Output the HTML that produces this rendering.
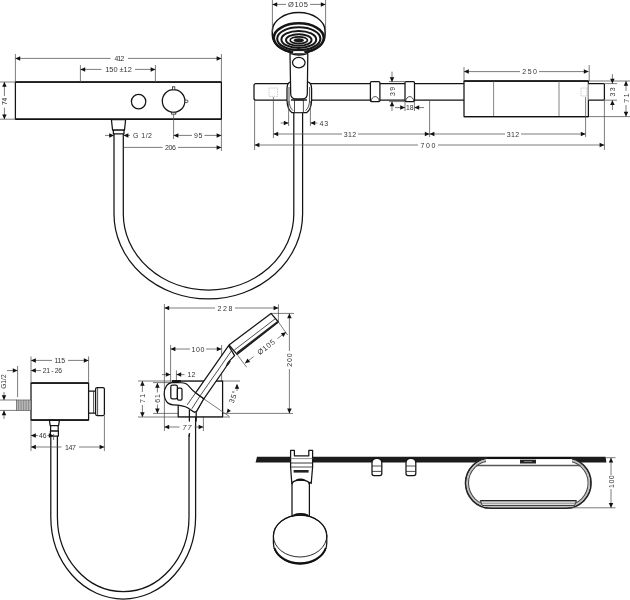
<!DOCTYPE html>
<html><head><meta charset="utf-8"><title>drawing</title>
<style>
html,body{margin:0;padding:0;background:#fff;}
body{width:630px;height:600px;overflow:hidden;font-family:"Liberation Sans",sans-serif;}
svg{display:block}
.o{fill:none;stroke:#141414;stroke-width:1.25;stroke-linejoin:round;stroke-linecap:round}
.ow{fill:#fff;stroke:#141414;stroke-width:1.25;stroke-linejoin:round}
.t{fill:none;stroke:#222;stroke-width:0.8}
.tw{fill:#fff;stroke:#222;stroke-width:0.8}
.g{fill:none;stroke:#777;stroke-width:0.9}
.d{fill:none;stroke:#505050;stroke-width:0.75}
.a{fill:#111;stroke:none}
.k{fill:#1c1c1c;stroke:none}
text{font-family:"Liberation Sans",sans-serif;fill:#333;}
</style></head><body>
<svg width="630" height="600" viewBox="0 0 630 600">
<rect x="0" y="0" width="630" height="600" fill="#fff"/>
<g opacity="0.999">
<path class="o" d="M114 133 V214 A94.3 85 0 0 0 302.6 214 V113"/>
<path class="o" d="M123.3 133 V214 A85.2 76 0 0 0 293.8 214 V113"/>
<rect class="ow" x="15.4" y="82" width="206" height="37.2"/>
<line x1="15.4" y1="82" x2="221.4" y2="82" stroke="#111" stroke-width="1.5"/>
<line x1="15.4" y1="119.2" x2="221.4" y2="119.2" stroke="#111" stroke-width="1.5"/>
<circle class="o" cx="138.6" cy="101.6" r="7.2"/>
<circle class="o" cx="173.6" cy="101" r="11.3"/>
<rect class="tw" x="172.5" y="86.8" width="2.3" height="3"/>
<rect class="tw" x="184.9" y="100.1" width="3" height="2.4" rx="1"/>
<rect class="tw" x="171.6" y="112.3" width="4.2" height="1.8"/>
<path class="ow" d="M111.4 119.6 H125.6 L124.5 130.2 H112.6 Z"/>
<rect class="ow" x="113.4" y="130.2" width="10.6" height="3.6"/>
<line class="d" x1="15.4" y1="54" x2="15.4" y2="82"/>
<line class="d" x1="221.4" y1="54" x2="221.4" y2="82"/>
<line class="d" x1="15.4" y1="58.4" x2="110.5" y2="58.4"/>
<line class="d" x1="128" y1="58.4" x2="221.4" y2="58.4"/>
<polygon class="a" points="15.40,58.40 20.20,56.15 20.20,60.65"/>
<polygon class="a" points="221.40,58.40 216.60,60.65 216.60,56.15"/>
<text x="119.4" y="58.6" font-size="6.8" text-anchor="middle" dominant-baseline="central" textLength="10" lengthAdjust="spacing" >412</text>
<line class="d" x1="80.4" y1="65" x2="80.4" y2="82"/>
<line class="d" x1="155.4" y1="65" x2="155.4" y2="82"/>
<line class="d" x1="80.4" y1="69.4" x2="101.5" y2="69.4"/>
<line class="d" x1="135" y1="69.4" x2="155.4" y2="69.4"/>
<polygon class="a" points="80.40,69.40 85.20,67.15 85.20,71.65"/>
<polygon class="a" points="155.40,69.40 150.60,71.65 150.60,67.15"/>
<text x="118.5" y="69.3" font-size="7.4" text-anchor="middle" dominant-baseline="central" textLength="26.7" lengthAdjust="spacing" >150 ±12</text>
<line class="d" x1="0" y1="82" x2="15.4" y2="82"/>
<line class="d" x1="0" y1="119.2" x2="15.4" y2="119.2"/>
<line class="d" x1="4.4" y1="82" x2="4.4" y2="96"/>
<line class="d" x1="4.4" y1="107.7" x2="4.4" y2="119.2"/>
<polygon class="a" points="4.40,82.00 6.65,86.80 2.15,86.80"/>
<polygon class="a" points="4.40,119.20 2.15,114.40 6.65,114.40"/>
<text x="4.5" y="101.3" font-size="6.8" text-anchor="middle" dominant-baseline="central" textLength="7.3" lengthAdjust="spacing" transform="rotate(-90 4.5 101.3)" >74</text>
<line class="d" x1="173.6" y1="114" x2="173.6" y2="139"/>
<line class="d" x1="221.4" y1="119.2" x2="221.4" y2="151"/>
<line class="d" x1="173.6" y1="135.4" x2="192" y2="135.4"/>
<line class="d" x1="204.5" y1="135.4" x2="221.4" y2="135.4"/>
<polygon class="a" points="173.60,135.40 178.40,133.15 178.40,137.65"/>
<polygon class="a" points="221.40,135.40 216.60,137.65 216.60,133.15"/>
<text x="198.2" y="135.5" font-size="7" text-anchor="middle" dominant-baseline="central" textLength="8.2" lengthAdjust="spacing" >95</text>
<line class="d" x1="123.6" y1="147.4" x2="162.5" y2="147.4"/>
<line class="d" x1="178" y1="147.4" x2="221.4" y2="147.4"/>
<polygon class="a" points="221.40,147.40 216.60,149.65 216.60,145.15"/>
<text x="170.4" y="147.5" font-size="7" text-anchor="middle" dominant-baseline="central" textLength="11" lengthAdjust="spacing" >206</text>
<line class="d" x1="105" y1="135.4" x2="114" y2="135.4"/>
<polygon class="a" points="114.00,135.40 109.20,137.65 109.20,133.15"/>
<line class="d" x1="123.6" y1="135.4" x2="130" y2="135.4"/>
<polygon class="a" points="123.60,135.40 128.40,133.15 128.40,137.65"/>
<text x="142.5" y="135.5" font-size="7" text-anchor="middle" dominant-baseline="central" textLength="19" lengthAdjust="spacing" >G 1/2</text>
<path class="ow" d="M464 83.6 H256 Q254 83.6 254 85.6 V98.2 Q254 100.2 256 100.2 H464"/>
<rect x="269" y="88" width="8.6" height="8.4" fill="none" stroke="#b0b0b0" stroke-width="0.7" stroke-dasharray="1.4 1"/>
<path class="ow" d="M290 82.2 C288 83 287 85.5 287 89 V100.2 C287.2 106 289 110.6 292 112.7 H306.6 C309.6 110.6 311.4 106 311.6 100.2 V89 C311.6 85.5 310.6 83 308.4 82.2 Z"/>
<path class="t" d="M289 87 V100 C289.2 105 290.4 108.4 293 110.6"/>
<path class="t" d="M309.6 87 V100 C309.4 105 308.2 108.4 305.6 110.6"/>
<rect class="tw" x="294.4" y="100" width="8.9" height="12.4"/>
<line x1="291" y1="100" x2="307" y2="100" stroke="#111" stroke-width="1.4"/>
<path class="ow" style="stroke-width:1.5" d="M272.3 35 V31 A26.4 18.4 0 0 1 325.1 31 V35 A26.4 18.4 0 0 1 272.3 35 Z"/>
<ellipse cx="298.8" cy="37.8" rx="25.0" ry="14.5" fill="none" stroke="#161616" stroke-width="2.5"/>
<ellipse cx="298.8" cy="38.7" rx="21.6" ry="11.4" fill="none" stroke="#161616" stroke-width="2.1"/>
<ellipse cx="298.8" cy="39.4" rx="17.4" ry="8.5" fill="none" stroke="#161616" stroke-width="2.0"/>
<ellipse cx="298.8" cy="40" rx="12.8" ry="5.8" fill="none" stroke="#161616" stroke-width="1.9"/>
<ellipse cx="298.8" cy="40.2" rx="8.7" ry="3.4" fill="none" stroke="#161616" stroke-width="1.7"/>
<ellipse cx="298.8" cy="40.3" rx="5" ry="2.1" fill="#1a1a1a"/>
<path class="ow" d="M290 53.5 L290.7 94 Q290.9 98.7 295.4 98.8 H302.8 Q307.1 98.7 307.3 94 L307.8 53.5 Q299 56.5 290 53.5 Z"/>
<ellipse class="o" cx="298.8" cy="62.6" rx="6.3" ry="5.2"/>
<path d="M292.4 53.2 L293 50.6 H304.6 L305.2 53.2" fill="#fff" stroke="#111" stroke-width="1"/>
<rect class="ow" x="370.4" y="81.6" width="9.5" height="20" rx="1.2"/>
<path class="t" d="M371.2 101.4 A3.95 4.8 0 0 1 379.09999999999997 101.4"/>
<rect class="ow" x="405" y="81.6" width="9.5" height="20" rx="1.2"/>
<path class="t" d="M405.8 101.4 A3.95 4.8 0 0 1 413.7 101.4"/>
<rect class="ow" x="464" y="81" width="124.4" height="35.6"/>
<line x1="464" y1="81" x2="588.4" y2="81" stroke="#111" stroke-width="1.4"/>
<line x1="464" y1="116.6" x2="588.4" y2="116.6" stroke="#111" stroke-width="1.4"/>
<line class="g" x1="493.6" y1="81.5" x2="493.6" y2="116"/>
<line class="g" x1="559" y1="81.5" x2="559" y2="116"/>
<rect x="581" y="88" width="6" height="8" fill="none" stroke="#aaa" stroke-width="0.7" stroke-dasharray="1.2 1"/>
<path class="ow" d="M588.4 83.6 H603.4 Q604.4 83.6 604.4 84.6 V99.2 Q604.4 100.2 603.4 100.2 H588.4"/>
<line class="d" x1="272.4" y1="0" x2="272.4" y2="32"/>
<line class="d" x1="325.6" y1="0" x2="325.6" y2="32"/>
<line class="d" x1="272.4" y1="4.4" x2="286" y2="4.4"/>
<line class="d" x1="310" y1="4.4" x2="325.6" y2="4.4"/>
<polygon class="a" points="272.40,4.40 277.20,2.15 277.20,6.65"/>
<polygon class="a" points="325.60,4.40 320.80,6.65 320.80,2.15"/>
<text x="298" y="4.5" font-size="7.5" text-anchor="middle" dominant-baseline="central" textLength="20" lengthAdjust="spacing" >Ø105</text>
<line class="d" x1="288.6" y1="101" x2="288.6" y2="126"/>
<line class="d" x1="310.4" y1="101" x2="310.4" y2="126"/>
<line class="d" x1="280.6" y1="123" x2="288.6" y2="123"/>
<polygon class="a" points="288.60,123.00 283.80,125.25 283.80,120.75"/>
<line class="d" x1="310.4" y1="123" x2="317.5" y2="123"/>
<polygon class="a" points="310.40,123.00 315.20,120.75 315.20,125.25"/>
<text x="323.8" y="123.2" font-size="7" text-anchor="middle" dominant-baseline="central" textLength="8.6" lengthAdjust="spacing" >43</text>
<line class="d" x1="273.4" y1="97" x2="273.4" y2="138"/>
<line class="d" x1="429.6" y1="100.4" x2="429.6" y2="137"/>
<line class="d" x1="273.4" y1="134" x2="342" y2="134"/>
<line class="d" x1="358" y1="134" x2="429.6" y2="134"/>
<polygon class="a" points="273.40,134.00 278.20,131.75 278.20,136.25"/>
<polygon class="a" points="429.60,134.00 424.80,136.25 424.80,131.75"/>
<text x="350" y="134.2" font-size="7" text-anchor="middle" dominant-baseline="central" textLength="12.5" lengthAdjust="spacing" >312</text>
<line class="d" x1="585.6" y1="97" x2="585.6" y2="137"/>
<line class="d" x1="429.6" y1="134" x2="505" y2="134"/>
<line class="d" x1="521" y1="134" x2="585.6" y2="134"/>
<polygon class="a" points="429.60,134.00 434.40,131.75 434.40,136.25"/>
<polygon class="a" points="585.60,134.00 580.80,136.25 580.80,131.75"/>
<text x="513" y="134.2" font-size="7" text-anchor="middle" dominant-baseline="central" textLength="12.5" lengthAdjust="spacing" >312</text>
<line class="d" x1="254.6" y1="100.4" x2="254.6" y2="150"/>
<line class="d" x1="604.4" y1="100.4" x2="604.4" y2="150"/>
<line class="d" x1="254.6" y1="145" x2="418" y2="145"/>
<line class="d" x1="438" y1="145" x2="604.4" y2="145"/>
<polygon class="a" points="254.60,145.00 259.40,142.75 259.40,147.25"/>
<polygon class="a" points="604.40,145.00 599.60,147.25 599.60,142.75"/>
<text x="428" y="145.2" font-size="7" text-anchor="middle" dominant-baseline="central" textLength="15" lengthAdjust="spacing" >700</text>
<line class="d" x1="389" y1="81.6" x2="405" y2="81.6"/>
<line class="d" x1="389" y1="101.6" x2="405" y2="101.6"/>
<line class="d" x1="392" y1="71.6" x2="392" y2="82"/>
<polygon class="a" points="392.00,82.00 389.75,77.20 394.25,77.20"/>
<line class="d" x1="392" y1="101.4" x2="392" y2="111"/>
<polygon class="a" points="392.00,101.40 394.25,106.20 389.75,106.20"/>
<text x="392.2" y="91.5" font-size="7" text-anchor="middle" dominant-baseline="central" textLength="9.2" lengthAdjust="spacing" transform="rotate(-90 392.2 91.5)" >39</text>
<line class="d" x1="405" y1="101.6" x2="405" y2="111"/>
<line class="d" x1="414.4" y1="101.6" x2="414.4" y2="111"/>
<line class="d" x1="395" y1="107.6" x2="405" y2="107.6"/>
<polygon class="a" points="405.00,107.60 400.20,109.85 400.20,105.35"/>
<line class="d" x1="414.4" y1="107.6" x2="424" y2="107.6"/>
<polygon class="a" points="414.40,107.60 419.20,105.35 419.20,109.85"/>
<text x="409.8" y="107.8" font-size="6.8" text-anchor="middle" dominant-baseline="central" textLength="7.6" lengthAdjust="spacing" >18</text>
<line class="d" x1="464" y1="67" x2="464" y2="81"/>
<line class="d" x1="589.2" y1="65" x2="589.2" y2="81"/>
<line class="d" x1="464" y1="71.6" x2="520" y2="71.6"/>
<line class="d" x1="539" y1="71.6" x2="588.6" y2="71.6"/>
<polygon class="a" points="464.00,71.60 468.80,69.35 468.80,73.85"/>
<polygon class="a" points="588.60,71.60 583.80,73.85 583.80,69.35"/>
<text x="529.6" y="71.8" font-size="7" text-anchor="middle" dominant-baseline="central" textLength="14.5" lengthAdjust="spacing" >250</text>
<line class="d" x1="589" y1="81" x2="630" y2="81"/>
<line class="d" x1="589" y1="116.6" x2="630" y2="116.6"/>
<line class="d" x1="604.4" y1="83.6" x2="617" y2="83.6"/>
<line class="d" x1="604.4" y1="100.2" x2="617" y2="100.2"/>
<line class="d" x1="612.4" y1="74" x2="612.4" y2="83.6"/>
<polygon class="a" points="612.40,83.60 610.15,78.80 614.65,78.80"/>
<line class="d" x1="612.4" y1="100.2" x2="612.4" y2="110"/>
<polygon class="a" points="612.40,100.20 614.65,105.00 610.15,105.00"/>
<text x="612.6" y="92" font-size="7" text-anchor="middle" dominant-baseline="central" textLength="9.2" lengthAdjust="spacing" transform="rotate(-90 612.6 92)" >33</text>
<line class="d" x1="626" y1="81" x2="626" y2="91"/>
<line class="d" x1="626" y1="105" x2="626" y2="116.6"/>
<polygon class="a" points="626.00,81.00 628.25,85.80 623.75,85.80"/>
<polygon class="a" points="626.00,116.60 623.75,111.80 628.25,111.80"/>
<text x="626.2" y="98" font-size="7" text-anchor="middle" dominant-baseline="central" textLength="9.4" lengthAdjust="spacing" transform="rotate(-90 626.2 98)" >71</text>
<path class="o" d="M50.8 436 V517 A72.4 82 0 0 0 195.6 517 V412"/>
<path class="o" d="M57.4 436 V517 A65.8 74.6 0 0 0 189 517 V435"/>
<rect class="ow" x="31" y="383" width="57.6" height="37"/>
<line x1="31" y1="383" x2="88.6" y2="383" stroke="#111" stroke-width="1.5"/>
<line x1="31" y1="420" x2="88.6" y2="420" stroke="#111" stroke-width="1.5"/>
<rect x="16.6" y="400" width="14.4" height="10.4" fill="#b8b8b8" stroke="#555" stroke-width="0.7"/>
<line x1="18.6" y1="400.4" x2="18.6" y2="410" stroke="#777" stroke-width="0.7"/>
<line x1="21.1" y1="400.4" x2="21.1" y2="410" stroke="#777" stroke-width="0.7"/>
<line x1="23.6" y1="400.4" x2="23.6" y2="410" stroke="#777" stroke-width="0.7"/>
<line x1="26.1" y1="400.4" x2="26.1" y2="410" stroke="#777" stroke-width="0.7"/>
<line x1="28.6" y1="400.4" x2="28.6" y2="410" stroke="#777" stroke-width="0.7"/>
<rect class="ow" x="88.6" y="391" width="7" height="22"/>
<line class="t" x1="93.6" y1="391" x2="93.6" y2="413"/>
<rect class="ow" x="95.6" y="387.6" width="8.8" height="28" rx="1.5"/>
<line class="t" x1="97.6" y1="388" x2="97.6" y2="415.2"/>
<path class="ow" d="M49.4 420.4 H59.4 L58.6 425.6 H50.2 Z"/>
<rect class="ow" x="50.6" y="425.6" width="7.6" height="5.4"/>
<rect class="ow" x="50.4" y="431" width="8" height="5"/>
<line class="d" x1="31" y1="356.4" x2="31" y2="383"/>
<line class="d" x1="88.6" y1="356.4" x2="88.6" y2="383"/>
<line class="d" x1="31" y1="360.4" x2="52" y2="360.4"/>
<line class="d" x1="68" y1="360.4" x2="88.6" y2="360.4"/>
<polygon class="a" points="31.00,360.40 35.80,358.15 35.80,362.65"/>
<polygon class="a" points="88.60,360.40 83.80,362.65 83.80,358.15"/>
<text x="59.8" y="360.6" font-size="7" text-anchor="middle" dominant-baseline="central" textLength="10.6" lengthAdjust="spacing" >115</text>
<line class="d" x1="31" y1="370.6" x2="41" y2="370.6"/>
<polygon class="a" points="31.00,370.60 35.80,368.35 35.80,372.85"/>
<text x="52.4" y="370.8" font-size="6.8" text-anchor="middle" dominant-baseline="central" textLength="19.4" lengthAdjust="spacing" >21 - 26</text>
<line class="d" x1="7" y1="370.6" x2="17.6" y2="370.6"/>
<polygon class="a" points="17.60,370.60 12.80,372.85 12.80,368.35"/>
<line class="d" x1="17.6" y1="366" x2="17.6" y2="397"/>
<line class="d" x1="0" y1="400" x2="16.6" y2="400"/>
<line class="d" x1="0" y1="410.4" x2="16.6" y2="410.4"/>
<line class="d" x1="4" y1="392" x2="4" y2="400"/>
<polygon class="a" points="4.00,400.00 1.75,395.20 6.25,395.20"/>
<line class="d" x1="4" y1="410.4" x2="4" y2="419"/>
<polygon class="a" points="4.00,410.40 6.25,415.20 1.75,415.20"/>
<text x="3.8" y="381.6" font-size="6.6" text-anchor="middle" dominant-baseline="central" textLength="14.5" lengthAdjust="spacing" transform="rotate(-90 3.8 381.6)" >G1/2</text>
<line class="d" x1="31" y1="420" x2="31" y2="451"/>
<line class="d" x1="104.4" y1="415.6" x2="104.4" y2="451"/>
<line class="d" x1="31" y1="435.6" x2="38" y2="435.6"/>
<polygon class="a" points="31.00,435.60 35.80,433.35 35.80,437.85"/>
<line class="d" x1="47.4" y1="435.6" x2="53.6" y2="435.6"/>
<polygon class="a" points="53.60,435.60 48.80,437.85 48.80,433.35"/>
<line class="d" x1="53.6" y1="434" x2="53.6" y2="440"/>
<text x="42.7" y="435.8" font-size="6.8" text-anchor="middle" dominant-baseline="central" textLength="7.6" lengthAdjust="spacing" >46</text>
<line class="d" x1="31" y1="447" x2="61.5" y2="447"/>
<line class="d" x1="79" y1="447" x2="104.4" y2="447"/>
<polygon class="a" points="31.00,447.00 35.80,444.75 35.80,449.25"/>
<polygon class="a" points="104.40,447.00 99.60,449.25 99.60,444.75"/>
<text x="70.4" y="447.2" font-size="7" text-anchor="middle" dominant-baseline="central" textLength="11" lengthAdjust="spacing" >147</text>
<line class="d" x1="164.4" y1="304" x2="164.4" y2="431"/>
<line class="d" x1="278.4" y1="304.4" x2="278.4" y2="322"/>
<line class="d" x1="164.4" y1="308" x2="215" y2="308"/>
<line class="d" x1="235" y1="308" x2="278.4" y2="308"/>
<polygon class="a" points="164.40,308.00 169.20,305.75 169.20,310.25"/>
<polygon class="a" points="278.40,308.00 273.60,310.25 273.60,305.75"/>
<text x="225" y="308.2" font-size="7" text-anchor="middle" dominant-baseline="central" textLength="15" lengthAdjust="spacing" >228</text>
<line class="d" x1="170.6" y1="345" x2="170.6" y2="382"/>
<line class="d" x1="221.6" y1="345" x2="221.6" y2="381"/>
<line class="d" x1="170.6" y1="349" x2="190" y2="349"/>
<line class="d" x1="206" y1="349" x2="221.6" y2="349"/>
<polygon class="a" points="170.60,349.00 175.40,346.75 175.40,351.25"/>
<polygon class="a" points="221.60,349.00 216.80,351.25 216.80,346.75"/>
<text x="198" y="349.2" font-size="7" text-anchor="middle" dominant-baseline="central" textLength="13" lengthAdjust="spacing" >100</text>
<line class="d" x1="176.4" y1="370.4" x2="176.4" y2="381"/>
<line class="d" x1="162" y1="374.6" x2="170.6" y2="374.6"/>
<polygon class="a" points="170.60,374.60 165.80,376.85 165.80,372.35"/>
<line class="d" x1="176.4" y1="374.6" x2="184.5" y2="374.6"/>
<polygon class="a" points="176.40,374.60 181.20,372.35 181.20,376.85"/>
<text x="191.4" y="374.8" font-size="7" text-anchor="middle" dominant-baseline="central" textLength="8" lengthAdjust="spacing" >12</text>
<line class="d" x1="138" y1="381" x2="240" y2="381"/>
<line class="d" x1="138" y1="417" x2="230" y2="417"/>
<line class="d" x1="142.4" y1="381" x2="142.4" y2="392"/>
<line class="d" x1="142.4" y1="405" x2="142.4" y2="417"/>
<polygon class="a" points="142.40,381.00 144.65,385.80 140.15,385.80"/>
<polygon class="a" points="142.40,417.00 140.15,412.20 144.65,412.20"/>
<text x="142.6" y="398.4" font-size="7" text-anchor="middle" dominant-baseline="central" textLength="9.2" lengthAdjust="spacing" transform="rotate(-90 142.6 398.4)" >71</text>
<line class="d" x1="153" y1="382.6" x2="172" y2="382.6"/>
<line class="d" x1="153" y1="413.4" x2="293" y2="413.4"/>
<line class="d" x1="157.4" y1="383" x2="157.4" y2="392.5"/>
<line class="d" x1="157.4" y1="404.5" x2="157.4" y2="413.4"/>
<polygon class="a" points="157.40,383.00 159.65,387.80 155.15,387.80"/>
<polygon class="a" points="157.40,413.40 155.15,408.60 159.65,408.60"/>
<text x="157.6" y="398.4" font-size="7" text-anchor="middle" dominant-baseline="central" textLength="8.8" lengthAdjust="spacing" transform="rotate(-90 157.6 398.4)" >61</text>
<line class="d" x1="203.4" y1="399" x2="203.4" y2="431"/>
<line class="d" x1="164.4" y1="427" x2="179.5" y2="427"/>
<line class="d" x1="194.5" y1="427" x2="203.4" y2="427"/>
<polygon class="a" points="164.40,427.00 169.20,424.75 169.20,429.25"/>
<polygon class="a" points="203.40,427.00 198.60,429.25 198.60,424.75"/>
<text x="187" y="427.2" font-size="7.2" text-anchor="middle" dominant-baseline="central" textLength="9" lengthAdjust="spacing" font-style="italic">77</text>
<line class="d" x1="271" y1="313.4" x2="294" y2="313.4"/>
<line class="d" x1="289.4" y1="313.4" x2="289.4" y2="351"/>
<line class="d" x1="289.4" y1="369" x2="289.4" y2="413.4"/>
<polygon class="a" points="289.40,313.40 291.65,318.20 287.15,318.20"/>
<polygon class="a" points="289.40,413.40 287.15,408.60 291.65,408.60"/>
<text x="289.6" y="360" font-size="7" text-anchor="middle" dominant-baseline="central" textLength="13.5" lengthAdjust="spacing" transform="rotate(-90 289.6 360)" >200</text>
<path class="ow" d="M172.2 381 H222.6 V416.8 H178.2 V381"/>
<line x1="172" y1="381" x2="181" y2="381" stroke="#111" stroke-width="1.8"/>
<line class="d" x1="204" y1="399" x2="229" y2="416.2"/>
<polygon class="a" points="226.60,413.20 227.73,408.50 230.88,410.96"/>
<line class="d" x1="237" y1="384.5" x2="237" y2="391"/>
<polygon class="a" points="237.00,384.00 239.25,388.80 234.75,388.80"/>
<text x="233.4" y="397" font-size="7.4" text-anchor="middle" dominant-baseline="central" textLength="12.5" lengthAdjust="spacing" transform="rotate(-70 233.4 397)" >35°</text>
<line class="o" x1="189.4" y1="410" x2="189.4" y2="421"/>
<line class="o" x1="196.2" y1="410" x2="196.2" y2="421"/>
<line class="o" x1="189.4" y1="433.5" x2="189.4" y2="436"/>
<path class="ow" d="M172.4 382.4 C166 383.4 164.2 389 164.2 394 C164.2 400 167.5 404.6 173 404.8 C180 405 184 405.4 188 408 C191 410 192.6 411.6 194.8 412.3 L196.6 411.4 L203.8 398.8 L195.6 392.8 C191 389.5 189.5 386 186.5 384 C184.5 382.6 181 382.4 172.4 382.4 Z"/>
<line class="t" x1="195.6" y1="392.8" x2="187.3" y2="404.8"/>
<line class="t" x1="200" y1="396" x2="191.8" y2="408.8"/>
<line class="t" x1="203.8" y1="398.8" x2="196.6" y2="411.4"/>
<rect class="ow" x="170.8" y="385.2" width="6.6" height="13.6" rx="1.6"/>
<rect class="ow" x="177.4" y="388.2" width="4.6" height="12" rx="1.4"/>
<path class="ow" d="M228.6 345.6 L195.6 392.8 L203.8 398.8 L226 367 C227 364 228 362 229.6 360.6 L234.6 355.6 Z"/>
<path class="t" d="M231.6 350.6 L200 396"/>
<path d="M229.8 360.4 C227.6 362.4 227 364.6 226.6 366.6 C229 364.8 230 363 231 360.8 Z" fill="#222"/>
<path class="ow" d="M229 345 L271 313.4 L278.4 322 L237 354.4 Z"/>
<path d="M236.6 352.2 L277 321.2 L278.2 322.4 L237.6 354 Z" fill="#222"/>
<path class="t" d="M234.4 350 L275.2 318.8"/>
<line class="d" x1="237" y1="354.4" x2="246.6" y2="367.2"/>
<line class="d" x1="278.4" y1="322" x2="287.6" y2="335"/>
<line class="d" x1="245" y1="363.2" x2="253.6" y2="356.7"/>
<line class="d" x1="277.4" y1="338.6" x2="286" y2="332.2"/>
<polygon class="a" points="245.00,363.20 247.44,358.49 250.18,362.06"/>
<polygon class="a" points="286.00,332.20 283.56,336.91 280.82,333.34"/>
<text x="266.2" y="347.2" font-size="7.4" text-anchor="middle" dominant-baseline="central" textLength="20" lengthAdjust="spacing" transform="rotate(-37.5 266.2 347.2)" >Ø105</text>
<path class="ow" d="M273.4 536 A26.7 21 0 0 1 326.8 536 V543 A26.7 21 0 0 1 273.4 543 Z"/>
<path d="M274.4 548 A26.7 21 0 0 0 325.8 548" fill="none" stroke="#111" stroke-width="2"/>
<ellipse class="o" cx="300.1" cy="536" rx="26.7" ry="21" style="stroke-width:0.9"/>
<path class="ow" d="M292 516 V484 Q292 480 300.6 480 Q309.4 480 309.4 484 V516 Q300.6 513.6 292 516 Z"/>
<path class="k" d="M257 456.8 H605.6 L606.4 462.6 H255.6 Z"/>
<path class="ow" d="M290.6 450.4 H294.4 V455.8 H308.8 V450.4 H312.6 V467 L311.2 483.5 Q310 481 309.4 484 V484 Q309.4 480 300.6 480 Q292 480 292 484 Q291.6 481 291.8 483.5 L290.6 467 Z"/>
<line x1="290.6" y1="458.6" x2="312.6" y2="458.6" stroke="#777" stroke-width="0.8"/>
<line x1="290.6" y1="463" x2="312.6" y2="463" stroke="#222" stroke-width="0.9"/>
<line x1="290.6" y1="467" x2="312.6" y2="467" stroke="#222" stroke-width="0.8"/>
<rect x="293.6" y="470" width="15" height="2.6" fill="#222"/>
<path d="M296 480.4 Q300.6 478 305 480.4" fill="none" stroke="#111" stroke-width="1.4"/>
<path d="M293.5 515.2 Q300.6 512.6 308 515.2" fill="none" stroke="#111" stroke-width="1.6"/>
<path class="ow" d="M372 463 Q372 458.4 376.9 458.4 Q381.8 458.4 381.8 463 V473.6 Q381.8 475.6 379.8 475.6 H374 Q372 475.6 372 473.6 Z"/>
<line class="t" x1="372" y1="466" x2="381.8" y2="466"/>
<line class="t" x1="372" y1="471.4" x2="381.8" y2="471.4"/>
<path class="ow" d="M406 463 Q406 458.4 410.9 458.4 Q415.8 458.4 415.8 463 V473.6 Q415.8 475.6 413.8 475.6 H408 Q406 475.6 406 473.6 Z"/>
<line class="t" x1="406" y1="466" x2="415.8" y2="466"/>
<line class="t" x1="406" y1="471.4" x2="415.8" y2="471.4"/>
<rect x="465.6" y="458" width="125.4" height="50.2" rx="25.1" fill="#fff" stroke="#242424" stroke-width="1.8"/>
<rect x="467.1" y="459.5" width="122.4" height="47.2" rx="23.6" fill="none" stroke="#bdbdbd" stroke-width="1.3"/>
<rect x="468.5" y="460.9" width="119.6" height="44.4" rx="22.2" fill="none" stroke="#4a4a4a" stroke-width="1.1"/>
<rect x="486" y="459.2" width="86" height="5" fill="#fff"/>
<line x1="487" y1="458" x2="571" y2="458" stroke="#111" stroke-width="2"/>
<line x1="476.5" y1="465.4" x2="580.5" y2="465.4" stroke="#555" stroke-width="1.5"/>
<rect x="520" y="459.7" width="16" height="3.8" fill="#222"/>
<rect x="524" y="461.1" width="8" height="0.9" fill="#888"/>
<path d="M480.4 500.7 H576.4 L574.6 505.4 H482.2 Z" fill="#f2f2f2" stroke="#333" stroke-width="1"/>
<line x1="480.4" y1="500.7" x2="576.4" y2="500.7" stroke="#222" stroke-width="1.3"/>
<line x1="481.4" y1="503.2" x2="575.4" y2="503.2" stroke="#777" stroke-width="0.9"/>
<line class="d" x1="606" y1="457.7" x2="615.5" y2="457.7"/>
<line class="d" x1="570" y1="507.8" x2="615.5" y2="507.8"/>
<line class="d" x1="611" y1="457.7" x2="611" y2="475"/>
<line class="d" x1="611" y1="489" x2="611" y2="507.8"/>
<polygon class="a" points="611.00,457.70 613.25,462.50 608.75,462.50"/>
<polygon class="a" points="611.00,507.80 608.75,503.00 613.25,503.00"/>
<text x="611.2" y="481.6" font-size="7" text-anchor="middle" dominant-baseline="central" textLength="12.6" lengthAdjust="spacing" transform="rotate(-90 611.2 481.6)" >100</text>
</g>
</svg>
</body></html>
